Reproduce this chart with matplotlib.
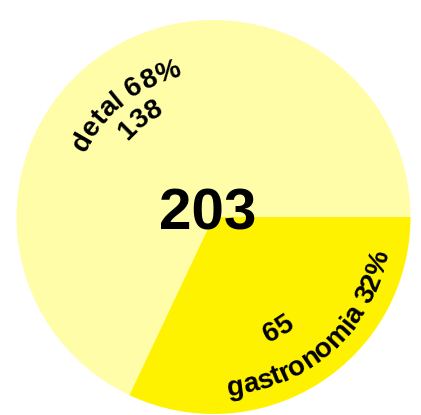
import numpy as np
import matplotlib
matplotlib.use("Agg")
import matplotlib.pyplot as plt
from matplotlib.font_manager import FontProperties

labels = ["detal", "gastronomia"]
values = [138, 65]
percents = ["68%", "32%"]
colors = ["#FFFDA8", "#FFF200"]
total = sum(values)

W, H = 421, 415
fig = plt.figure(figsize=(W / 100, H / 100), dpi=100)
ax = fig.add_axes([0, 0, 1, 1])

cx, cy, R = 213.5, 198, 197
ax.pie(values, colors=colors, startangle=0, counterclock=True,
       center=(cx, cy), radius=R, frame=True,
       wedgeprops=dict(linewidth=0))
ax.set_xlim(0, W)
ax.set_ylim(0, H)
ax.set_aspect("equal")
ax.axis("off")

fp = FontProperties(family="Liberation Sans", weight="bold", size=20)
renderer = fig.canvas.get_renderer()


def char_width(c):
    w1 = renderer.get_text_width_height_descent("|" + c + "|", fp, ismath=False)[0]
    w0 = renderer.get_text_width_height_descent("||", fp, ismath=False)[0]
    return w1 - w0


def arc_text(s, r, theta_c, outward=True):
    # place each character along a circle around the pie centre
    ws = [char_width(c) for c in s]
    total_w = sum(ws)
    tc = np.radians(theta_c)
    cum = 0
    for c, w in zip(s, ws):
        d = (cum + w / 2 - total_w / 2) / r
        th = tc - d if outward else tc + d
        rot = np.degrees(th) - 90 if outward else np.degrees(th) + 90
        ax.text(cx + r * np.cos(th), cy + r * np.sin(th), c, fontproperties=fp,
                rotation=rot, rotation_mode="anchor", ha="center", va="baseline",
                color="black")
        cum += w


arc_text(f"{labels[0]} {percents[0]}", 144, 128, outward=True)
arc_text(str(values[0]), 115, 127, outward=True)
arc_text(str(values[1]), 137, -60, outward=False)
arc_text(f"{labels[1]} {percents[1]}", 179, -48.5, outward=False)

ax.text(207.5, 201, str(total), ha="center", va="center",
        family="Liberation Sans", weight="bold", fontsize=42, color="black")

fig.savefig("out.png", dpi=100)
